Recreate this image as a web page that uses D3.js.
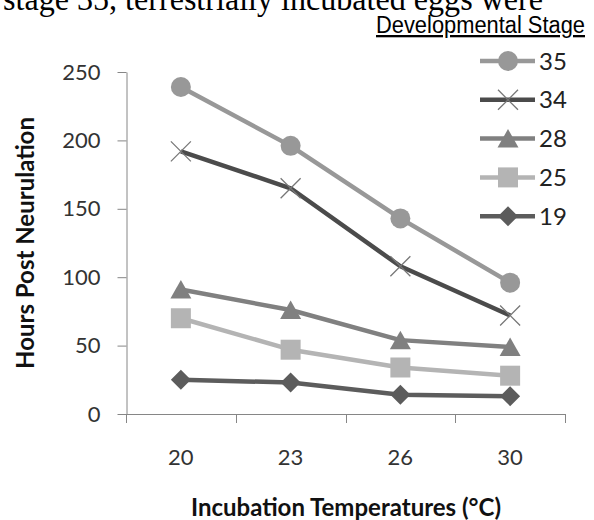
<!DOCTYPE html>
<html>
<head>
<meta charset="utf-8">
<script src="https://cdn.jsdelivr.net/npm/d3@7"></script>
<style>
    body { margin: 0; background: #fff; }
    svg { display: block; }
</style>
</head>
<body>
<div id="chart"></div>
<script>
// Data
const temperatures = ["20", "23", "26", "30"];
const stages = ["35", "34", "28", "25", "19"];
const stage35 = [239, 196, 143, 96];
const stage34 = [192, 165, 108, 72];
const stage28 = [91, 76, 54, 49];
const stage25 = [70, 47, 34, 28];
const stage19 = [25, 23, 14, 13];
const yTicks = [0, 50, 100, 150, 200, 250];

const series = [
    { name: stages[0], values: stage35, color: "#989898", marker: "circle" },
    { name: stages[1], values: stage34, color: "#4b4b4b", marker: "cross" },
    { name: stages[2], values: stage28, color: "#808080", marker: "triangle" },
    { name: stages[3], values: stage25, color: "#b4b4b4", marker: "square" },
    { name: stages[4], values: stage19, color: "#5c5c5c", marker: "diamond" }
];

const width = 594, height = 520;
const sans = "Lato, 'Open Sans', sans-serif";

const svg = d3.select("#chart")
    .append("svg")
    .attr("width", width)
    .attr("height", height);

// Scales
const x = d3.scaleBand().domain(temperatures).range([126, 565]);
const y = d3.scaleLinear().domain([0, 250]).range([414, 72]);

// Marker shapes (bbox centred, like Excel)
function markerPath(type) {
    switch (type) {
        case "circle": return d3.symbol(d3.symbolCircle, Math.PI * 10 * 10)();
        case "square": return "M-10,-10H10V10H-10Z";
        case "triangle": return "M0,-9.5L10.5,9L-10.5,9Z";
        case "diamond": return "M0,-10L10,0L0,10L-10,0Z";
        case "cross": return "M-10,-10L10,10M10,-10L-10,10";
    }
}

function drawMarker(g, s) {
    const p = g.append("path").attr("d", markerPath(s.marker));
    if (s.marker === "cross") {
        p.attr("fill", "none").attr("stroke", "#777").attr("stroke-width", 1.3);
    } else {
        p.attr("fill", s.color);
    }
}

// Paragraph text clipped at the top edge
svg.append("text")
    .attr("x", 3)
    .attr("y", 10)
    .attr("font-family", "'Liberation Serif', 'Times New Roman', serif")
    .attr("font-size", "33px")
    .attr("textLength", 540)
    .attr("lengthAdjust", "spacingAndGlyphs")
    .attr("fill", "#000")
    .text("stage 35, terrestrially incubated eggs were");

// Y axis
const yAxis = svg.append("g")
    .attr("transform", "translate(126.5,0)")
    .call(d3.axisLeft(y).tickValues(yTicks).tickSize(9).tickSizeOuter(0).tickPadding(17));
yAxis.select(".domain").attr("stroke", "#868686");
yAxis.selectAll(".tick line").attr("stroke", "#868686");
yAxis.selectAll("text")
    .attr("font-family", sans)
    .attr("font-size", "22px")
    .attr("fill", "#333");

// X axis: line, ticks between categories, labels centred
const xAxis = svg.append("g").attr("class", "x-axis");
xAxis.append("line")
    .attr("x1", x.range()[0]).attr("x2", x.range()[1])
    .attr("y1", y(0) + 0.5).attr("y2", y(0) + 0.5)
    .attr("stroke", "#868686");
xAxis.selectAll(".tick")
    .data(temperatures.map(t => x(t)).concat([x.range()[1]]))
    .enter().append("line")
    .attr("x1", d => Math.round(d) + 0.5).attr("x2", d => Math.round(d) + 0.5)
    .attr("y1", y(0)).attr("y2", y(0) + 9)
    .attr("stroke", "#868686");
xAxis.selectAll(".label")
    .data(temperatures)
    .enter().append("text")
    .attr("x", d => x(d) + x.bandwidth() / 2)
    .attr("y", 465)
    .attr("text-anchor", "middle")
    .attr("font-family", sans)
    .attr("font-size", "22px")
    .attr("fill", "#333")
    .text(d => d);

// Axis titles
svg.append("text")
    .attr("transform", "translate(34,243) rotate(-90)")
    .attr("text-anchor", "middle")
    .attr("font-family", sans)
    .attr("font-weight", "bold")
    .attr("font-size", "24px")
    .attr("fill", "#111")
    .text("Hours Post Neurulation");

svg.append("text")
    .attr("x", 346)
    .attr("y", 516)
    .attr("text-anchor", "middle")
    .attr("font-family", sans)
    .attr("font-weight", "bold")
    .attr("font-size", "24px")
    .attr("fill", "#111")
    .text("Incubation Temperatures (°C)");

// Lines and markers (draw bottom legend entry first so 35 ends on top)
const line = d3.line()
    .x((d, i) => x(temperatures[i]) + x.bandwidth() / 2)
    .y(d => y(d));

const plot = svg.append("g");
series.slice().reverse().forEach(s => {
    plot.append("path")
        .datum(s.values)
        .attr("d", line)
        .attr("fill", "none")
        .attr("stroke", s.color)
        .attr("stroke-width", 4.5)
        .attr("stroke-linejoin", "round");
    s.values.forEach((v, i) => {
        const g = plot.append("g")
            .attr("transform", `translate(${x(temperatures[i]) + x.bandwidth() / 2},${y(v)})`);
        drawMarker(g, s);
    });
});

// Legend
svg.append("text")
    .attr("x", 376)
    .attr("y", 33)
    .attr("font-family", "'Liberation Sans Narrow', 'Arial Narrow', 'Liberation Sans', sans-serif")
    .attr("font-size", "23px")
    .attr("textLength", 209)
    .attr("lengthAdjust", "spacingAndGlyphs")
    .attr("text-decoration", "underline")
    .attr("fill", "#000")
    .text("Developmental Stage");

const legend = svg.append("g");
series.forEach((s, i) => {
    const g = legend.append("g").attr("transform", `translate(0,${61 + i * 38.8})`);
    g.append("line")
        .attr("x1", 480).attr("x2", 535)
        .attr("stroke", s.color)
        .attr("stroke-width", 4.5);
    const m = g.append("g").attr("transform", "translate(508,0)");
    drawMarker(m, s);
    g.append("text")
        .attr("x", 539)
        .attr("y", 0)
        .attr("dy", "0.36em")
        .attr("font-family", sans)
        .attr("font-size", "24px")
        .attr("fill", "#222")
        .text(s.name);
});
</script>
</body>
</html>
